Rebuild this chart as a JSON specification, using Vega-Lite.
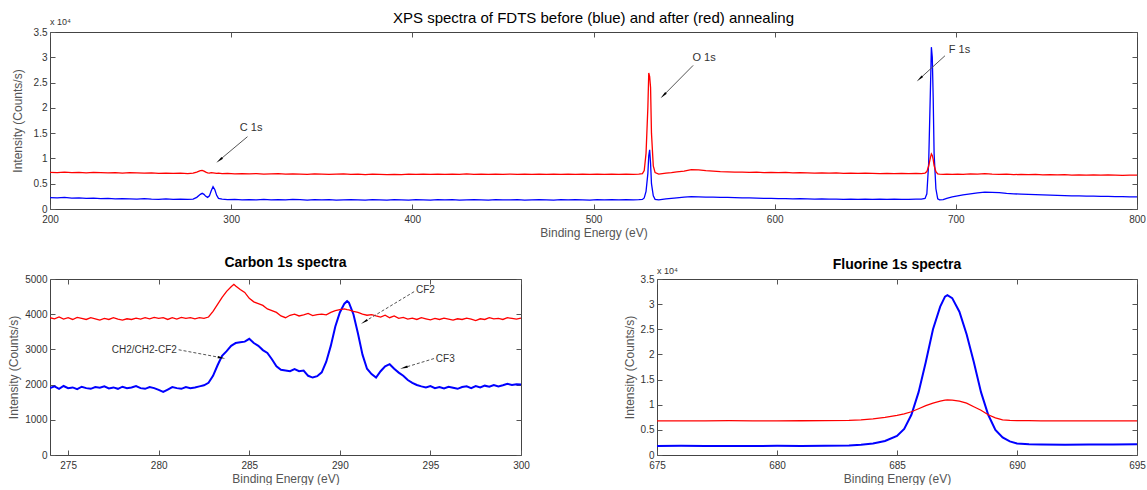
{
"$schema": "https://vega.github.io/schema/vega-lite/v6.json",
"padding": {"left": 7, "top": 10, "right": 0, "bottom": 0},
"config": {
 "font": "Liberation Sans",
 "view": {"stroke": "#444", "strokeWidth": 1},
 "axis": {"grid": false, "domain": false, "tickSize": -5, "tickColor": "#555", "labelFontSize": 10, "labelColor": "#333", "titleFontSize": 12, "titleColor": "#555", "titleFontWeight": "normal", "labelFont": "Liberation Sans", "titleFont": "Liberation Sans", "labelPadding": 8, "titlePadding": 4, "labelFlush": false},
 "axisX": {"labelPadding": 10},
 "title": {"font": "Liberation Sans", "color": "#000", "frame": "group"}
},
"datasets": {
 "survey": [
{"e":200,"b":2250,"r":7250},{"e":204,"b":2200,"r":7200},{"e":208,"b":2300,"r":7300},{"e":212,"b":2150,"r":7200},{"e":216,"b":2200,"r":7250},{"e":220,"b":2100,"r":7150},{"e":224,"b":2150,"r":7250},{"e":228,"b":2050,"r":7200},{"e":232,"b":2100,"r":7150},{"e":236,"b":2000,"r":7200},{"e":240,"b":2050,"r":7100},{"e":244,"b":2000,"r":7200},{"e":248,"b":1950,"r":7150},{"e":252,"b":2050,"r":7100},{"e":256,"b":1950,"r":7150},{"e":260,"b":1900,"r":7050},{"e":264,"b":2000,"r":7100},{"e":268,"b":1900,"r":7050},{"e":272,"b":1950,"r":7100},{"e":276,"b":1900,"r":7000},{"e":279,"b":1950,"r":7100},{"e":281,"b":2300,"r":7300},{"e":283,"b":2900,"r":7600},{"e":284,"b":3100,"r":7650},{"e":285,"b":2900,"r":7500},{"e":286,"b":2500,"r":7300},{"e":287,"b":2300,"r":7150},{"e":288,"b":2600,"r":7100},{"e":289,"b":3600,"r":7200},{"e":290,"b":4400,"r":7150},{"e":291,"b":3800,"r":7100},{"e":292,"b":2700,"r":7050},{"e":293,"b":2100,"r":7100},{"e":295,"b":1950,"r":7000},{"e":298,"b":1850,"r":7050},
{"e":302,"b":1900,"r":6950},{"e":306,"b":1800,"r":7000},{"e":310,"b":1850,"r":6950},{"e":314,"b":1800,"r":7000},{"e":318,"b":1900,"r":6900},{"e":322,"b":1800,"r":6950},{"e":326,"b":1850,"r":7000},{"e":330,"b":1800,"r":6900},{"e":334,"b":1900,"r":6950},{"e":338,"b":1850,"r":6900},{"e":342,"b":1750,"r":6850},{"e":346,"b":1850,"r":6950},{"e":350,"b":1800,"r":6900},{"e":354,"b":1850,"r":6850},{"e":358,"b":1750,"r":6900},{"e":362,"b":1800,"r":6950},{"e":366,"b":1850,"r":6850},{"e":370,"b":1800,"r":6900},{"e":374,"b":1750,"r":6800},{"e":378,"b":1850,"r":6900},{"e":382,"b":1800,"r":6850},{"e":386,"b":1750,"r":6800},{"e":390,"b":1850,"r":6850},{"e":394,"b":1800,"r":6800},{"e":398,"b":1750,"r":6900},
{"e":402,"b":1850,"r":6850},{"e":406,"b":1800,"r":6900},{"e":410,"b":1750,"r":6850},{"e":414,"b":1850,"r":6900},{"e":418,"b":1800,"r":6850},{"e":422,"b":1850,"r":6900},{"e":426,"b":1750,"r":6850},{"e":430,"b":1800,"r":6950},{"e":434,"b":1850,"r":6850},{"e":438,"b":1800,"r":6900},{"e":442,"b":1750,"r":6850},{"e":446,"b":1850,"r":6900},{"e":450,"b":1800,"r":6850},{"e":454,"b":1800,"r":6900},{"e":458,"b":1850,"r":6850},{"e":462,"b":1750,"r":6900},{"e":466,"b":1800,"r":6850},{"e":470,"b":1850,"r":6900},{"e":474,"b":1800,"r":6850},{"e":478,"b":1750,"r":6900},{"e":482,"b":1850,"r":6850},{"e":486,"b":1800,"r":6900},{"e":490,"b":1850,"r":6850},{"e":494,"b":1800,"r":6900},{"e":498,"b":1750,"r":6850},
{"e":502,"b":1850,"r":6900},{"e":506,"b":1800,"r":6850},{"e":510,"b":1850,"r":6900},{"e":514,"b":1800,"r":6850},{"e":518,"b":1850,"r":6900},{"e":522,"b":1800,"r":6850},{"e":525,"b":1850,"r":6900},{"e":527,"b":1900,"r":7000},{"e":528,"b":2200,"r":7600},{"e":529,"b":3500,"r":11000},{"e":530,"b":7000,"r":20000},{"e":530.5,"b":10500,"r":26900},{"e":531,"b":11700,"r":26200},{"e":531.5,"b":9000,"r":24000},{"e":532,"b":5000,"r":15000},{"e":533,"b":2600,"r":8500},{"e":534,"b":1900,"r":7200},{"e":536,"b":1800,"r":6900},{"e":538,"b":1900,"r":7000},{"e":540,"b":2000,"r":7100},{"e":543,"b":2100,"r":7200},{"e":546,"b":2200,"r":7350},{"e":550,"b":2350,"r":7500},{"e":554,"b":2450,"r":7800},{"e":558,"b":2400,"r":7750},{"e":562,"b":2350,"r":7600},{"e":566,"b":2350,"r":7500},{"e":570,"b":2300,"r":7400},{"e":574,"b":2300,"r":7350},{"e":578,"b":2250,"r":7300},{"e":582,"b":2200,"r":7300},{"e":586,"b":2200,"r":7250},{"e":590,"b":2150,"r":7300},{"e":594,"b":2100,"r":7200},{"e":598,"b":2100,"r":7250},
{"e":602,"b":2050,"r":7200},{"e":606,"b":2050,"r":7250},{"e":610,"b":2000,"r":7150},{"e":614,"b":2050,"r":7200},{"e":618,"b":2000,"r":7150},{"e":622,"b":1950,"r":7100},{"e":626,"b":2000,"r":7150},{"e":630,"b":1950,"r":7100},{"e":634,"b":1950,"r":7150},{"e":638,"b":1900,"r":7050},{"e":642,"b":1950,"r":7100},{"e":646,"b":1900,"r":7050},{"e":650,"b":1950,"r":7100},{"e":654,"b":1900,"r":7050},{"e":658,"b":1950,"r":7000},{"e":662,"b":1900,"r":7050},{"e":666,"b":1950,"r":7000},{"e":670,"b":1900,"r":7050},{"e":674,"b":1900,"r":7000},{"e":678,"b":1950,"r":7050},{"e":681,"b":1950,"r":7000},{"e":683,"b":2100,"r":7100},{"e":684,"b":3000,"r":7400},{"e":685,"b":9000,"r":8500},{"e":686,"b":24000,"r":10200},{"e":686.5,"b":32000,"r":10900},{"e":687,"b":30000,"r":10600},{"e":687.5,"b":22000,"r":9800},{"e":688,"b":11000,"r":8600},{"e":689,"b":4000,"r":7400},{"e":690,"b":2000,"r":6950},{"e":691,"b":1800,"r":6900},{"e":693,"b":1850,"r":6850},{"e":695,"b":2100,"r":6900},{"e":698,"b":2400,"r":6850},
{"e":701,"b":2600,"r":6900},{"e":704,"b":2800,"r":6850},{"e":708,"b":3000,"r":6950},{"e":712,"b":3200,"r":6900},{"e":716,"b":3350,"r":7000},{"e":720,"b":3300,"r":6900},{"e":724,"b":3250,"r":6850},{"e":728,"b":3100,"r":6900},{"e":732,"b":3000,"r":6800},{"e":736,"b":2950,"r":6850},{"e":740,"b":2900,"r":6800},{"e":744,"b":2850,"r":6850},{"e":748,"b":2800,"r":6750},{"e":752,"b":2750,"r":6800},{"e":756,"b":2700,"r":6750},{"e":760,"b":2650,"r":6800},{"e":764,"b":2600,"r":6700},{"e":768,"b":2600,"r":6750},{"e":772,"b":2550,"r":6700},{"e":776,"b":2550,"r":6750},{"e":780,"b":2500,"r":6700},{"e":784,"b":2500,"r":6750},{"e":788,"b":2450,"r":6700},{"e":792,"b":2450,"r":6650},{"e":796,"b":2400,"r":6700},{"e":800,"b":2400,"r":6700}
 ],
 "surveyArrows": [
  {"id":"C","x1":309,"y1":14300,"x2":294,"y2":9800},
  {"id":"O","x1":555,"y1":28400,"x2":539,"y2":22600},
  {"id":"F","x1":694,"y1":30300,"x2":680.5,"y2":25900}
 ],
 "surveyLabels": [
  {"x":311,"y":16000,"t":"C 1s"},
  {"x":561,"y":29800,"t":"O 1s"},
  {"x":702,"y":31400,"t":"F 1s"}
 ],
 "carbon": [
{"e":274.0,"b":1900,"r":3900},{"e":274.25,"b":1950,"r":3870},{"e":274.5,"b":1880,"r":3920},{"e":274.75,"b":1960,"r":3860},{"e":275.0,"b":1900,"r":3900},{"e":275.25,"b":1920,"r":3850},{"e":275.5,"b":1870,"r":3910},{"e":275.75,"b":1940,"r":3880},{"e":276.0,"b":1900,"r":3850},{"e":276.25,"b":1880,"r":3900},{"e":276.5,"b":1930,"r":3870},{"e":276.75,"b":1910,"r":3830},{"e":277.0,"b":1950,"r":3880},{"e":277.25,"b":1890,"r":3850},{"e":277.5,"b":1920,"r":3900},{"e":277.75,"b":1880,"r":3860},{"e":278.0,"b":1940,"r":3830},{"e":278.25,"b":1900,"r":3870},{"e":278.5,"b":1920,"r":3850},{"e":278.75,"b":1960,"r":3890},{"e":279.0,"b":1900,"r":3860},{"e":279.25,"b":1880,"r":3900},{"e":279.5,"b":1930,"r":3870},{"e":279.75,"b":1900,"r":3910},
{"e":280.0,"b":1850,"r":3880},{"e":280.25,"b":1790,"r":3900},{"e":280.5,"b":1860,"r":3850},{"e":280.75,"b":1930,"r":3900},{"e":281.0,"b":1900,"r":3860},{"e":281.25,"b":1880,"r":3910},{"e":281.5,"b":1930,"r":3880},{"e":281.75,"b":1900,"r":3900},{"e":282.0,"b":1920,"r":3870},{"e":282.25,"b":1950,"r":3900},{"e":282.5,"b":1980,"r":3880},{"e":282.75,"b":2050,"r":3920},{"e":283.0,"b":2250,"r":4080},{"e":283.25,"b":2550,"r":4280},{"e":283.5,"b":2820,"r":4480},{"e":283.75,"b":2950,"r":4650},{"e":284.0,"b":3100,"r":4780},{"e":284.15,"b":3150,"r":4850},{"e":284.25,"b":3180,"r":4800},{"e":284.5,"b":3200,"r":4700},{"e":284.75,"b":3220,"r":4620},
{"e":285.0,"b":3300,"r":4450},{"e":285.25,"b":3180,"r":4350},{"e":285.5,"b":3100,"r":4300},{"e":285.75,"b":2980,"r":4250},{"e":286.0,"b":2900,"r":4150},{"e":286.25,"b":2720,"r":4100},{"e":286.5,"b":2520,"r":4050},{"e":286.75,"b":2420,"r":3950},{"e":287.0,"b":2400,"r":3900},{"e":287.25,"b":2380,"r":3970},{"e":287.5,"b":2440,"r":4000},{"e":287.75,"b":2380,"r":3950},{"e":288.0,"b":2400,"r":3980},{"e":288.25,"b":2250,"r":4020},{"e":288.5,"b":2200,"r":3960},{"e":288.75,"b":2240,"r":3990},{"e":289.0,"b":2350,"r":4000},{"e":289.25,"b":2650,"r":3980},{"e":289.5,"b":3100,"r":4050},{"e":289.75,"b":3650,"r":4100},
{"e":290.0,"b":4050,"r":4130},{"e":290.25,"b":4300,"r":4150},{"e":290.4,"b":4370,"r":4130},{"e":290.5,"b":4330,"r":4120},{"e":290.75,"b":4000,"r":4080},{"e":291.0,"b":3450,"r":4050},{"e":291.25,"b":2850,"r":4000},{"e":291.5,"b":2450,"r":3970},{"e":291.75,"b":2300,"r":3990},{"e":292.0,"b":2200,"r":3950},{"e":292.25,"b":2380,"r":3920},{"e":292.5,"b":2520,"r":3970},{"e":292.75,"b":2580,"r":3900},{"e":293.0,"b":2450,"r":3950},{"e":293.25,"b":2340,"r":3880},{"e":293.5,"b":2250,"r":3910},{"e":293.75,"b":2130,"r":3860},{"e":294.0,"b":2050,"r":3890},{"e":294.25,"b":1990,"r":3850},{"e":294.5,"b":1950,"r":3900},{"e":294.75,"b":1920,"r":3870},
{"e":295.0,"b":1960,"r":3840},{"e":295.25,"b":1900,"r":3880},{"e":295.5,"b":1930,"r":3850},{"e":295.75,"b":1890,"r":3890},{"e":296.0,"b":1940,"r":3860},{"e":296.25,"b":1910,"r":3830},{"e":296.5,"b":1880,"r":3870},{"e":296.75,"b":1930,"r":3850},{"e":297.0,"b":1950,"r":3890},{"e":297.25,"b":1900,"r":3860},{"e":297.5,"b":1960,"r":3820},{"e":297.75,"b":1920,"r":3870},{"e":298.0,"b":1970,"r":3850},{"e":298.25,"b":1940,"r":3900},{"e":298.5,"b":1990,"r":3870},{"e":298.75,"b":1950,"r":3880},{"e":299.0,"b":1980,"r":3850},{"e":299.25,"b":2020,"r":3900},{"e":299.5,"b":1990,"r":3880},{"e":299.75,"b":2010,"r":3860},{"e":300.0,"b":2000,"r":3890}
 ],
 "carbonArrows": [
  {"id":"CF2","x1":294.1,"y1":4640,"x2":291.4,"y2":3800},
  {"id":"CH2","x1":281.1,"y1":2990,"x2":283.4,"y2":2770},
  {"id":"CF3","x1":295.2,"y1":2740,"x2":293.6,"y2":2490}
 ],
 "carbonLabelsLeft": [
  {"x":294.2,"y":4690,"t":"CF2"},
  {"x":295.3,"y":2740,"t":"CF3"}
 ],
 "carbonLabelsRight": [
  {"x":281.0,"y":2980,"t":"CH2/CH2-CF2"}
 ],
 "fluorine": [
{"e":675,"b":1800,"r":6800},{"e":676,"b":1820,"r":6780},{"e":677,"b":1800,"r":6800},{"e":678,"b":1810,"r":6820},{"e":679,"b":1800,"r":6790},{"e":680,"b":1820,"r":6800},{"e":681,"b":1810,"r":6810},{"e":682,"b":1830,"r":6830},{"e":683,"b":1900,"r":6900},{"e":683.5,"b":2050,"r":7000},{"e":684,"b":2300,"r":7200},{"e":684.5,"b":2800,"r":7500},{"e":685,"b":3800,"r":7900},{"e":685.3,"b":5200,"r":8200},{"e":685.6,"b":8000,"r":8600},{"e":685.9,"b":12500,"r":9200},{"e":686.2,"b":18500,"r":9800},{"e":686.5,"b":25000,"r":10300},{"e":686.8,"b":29500,"r":10700},{"e":687.0,"b":31500,"r":10900},{"e":687.1,"b":31800,"r":10950},{"e":687.3,"b":31200,"r":10900},{"e":687.6,"b":28500,"r":10700},{"e":687.9,"b":24000,"r":10300},{"e":688.2,"b":18500,"r":9600},{"e":688.5,"b":12500,"r":8900},{"e":688.8,"b":8000,"r":8000},{"e":689.1,"b":5000,"r":7400},{"e":689.4,"b":3500,"r":7000},{"e":689.7,"b":2700,"r":6900},{"e":690.0,"b":2300,"r":6850},{"e":690.5,"b":2150,"r":6820},{"e":691,"b":2100,"r":6800},{"e":692,"b":2050,"r":6800},{"e":693,"b":2100,"r":6790},{"e":694,"b":2100,"r":6800},{"e":695,"b":2150,"r":6800}
 ],
 "expTop": [{"x":200,"y":35000,"t":"x 10⁴"}],
 "expF": [{"x":675,"y":35000,"t":"x 10⁴"}]
},
"bounds": "flush",
"spacing": 70,
"vconcat": [
 {
  "width": 1087, "height": 177,
  "title": {"text": "XPS spectra of FDTS before (blue) and after (red) annealing", "fontSize": 15, "fontWeight": "normal", "offset": -8},
  "resolve": {"axis": {"x": "independent", "y": "independent"}},
  "layer": [
   {"data": {"name": "survey"}, "transform": [{"fold": ["b", "r"], "as": ["s", "v"]}],
    "mark": {"type": "line", "strokeWidth": 1.3, "clip": true},
    "encoding": {
     "x": {"field": "e", "type": "quantitative", "scale": {"domain": [200, 800], "nice": false, "zero": false}, "axis": {"values": [200, 300, 400, 500, 600, 700, 800], "title": "Binding Energy (eV)", "titlePadding": 3}},
     "y": {"field": "v", "type": "quantitative", "scale": {"domain": [0, 35000], "nice": false}, "axis": {"values": [0, 5000, 10000, 15000, 20000, 25000, 30000, 35000], "labelExpr": "datum.value/10000", "title": "Intensity (Counts/s)", "titlePadding": 9}},
     "color": {"field": "s", "type": "nominal", "scale": {"domain": ["b", "r"], "range": ["#0000ff", "#ff0000"]}, "legend": null}
    }},
   {"data": {"name": "surveyArrows"}, "mark": {"type": "rule", "color": "#555", "strokeWidth": 1},
    "encoding": {
     "x": {"field": "x1", "type": "quantitative", "axis": {"orient": "top", "labels": false, "title": null, "values": [200, 300, 400, 500, 600, 700, 800]}},
     "y": {"field": "y1", "type": "quantitative", "axis": {"orient": "right", "labels": false, "title": null, "values": [0, 5000, 10000, 15000, 20000, 25000, 30000, 35000]}},
     "x2": {"field": "x2"}, "y2": {"field": "y2"}
    }},
   {"data": {"name": "surveyArrows"}, "transform": [{"filter": "datum.id == 'C'"}], "mark": {"type": "point", "shape": "wedge", "filled": true, "color": "#000", "size": 80, "angle": 230, "opacity": 1},
    "encoding": {"x": {"field": "x2", "type": "quantitative", "axis": null}, "y": {"field": "y2", "type": "quantitative", "axis": null}}},
   {"data": {"name": "surveyArrows"}, "transform": [{"filter": "datum.id == 'O'"}], "mark": {"type": "point", "shape": "wedge", "filled": true, "color": "#000", "size": 80, "angle": 225, "opacity": 1},
    "encoding": {"x": {"field": "x2", "type": "quantitative", "axis": null}, "y": {"field": "y2", "type": "quantitative", "axis": null}}},
   {"data": {"name": "surveyArrows"}, "transform": [{"filter": "datum.id == 'F'"}], "mark": {"type": "point", "shape": "wedge", "filled": true, "color": "#000", "size": 80, "angle": 227, "opacity": 1},
    "encoding": {"x": {"field": "x2", "type": "quantitative", "axis": null}, "y": {"field": "y2", "type": "quantitative", "axis": null}}},
   {"data": {"name": "surveyLabels"}, "mark": {"type": "text", "fontSize": 11, "color": "#333", "align": "center", "baseline": "middle"},
    "encoding": {"x": {"field": "x", "type": "quantitative", "axis": null}, "y": {"field": "y", "type": "quantitative", "axis": null}, "text": {"field": "t"}}},
   {"data": {"name": "expTop"}, "mark": {"type": "text", "fontSize": 9, "color": "#333", "align": "left", "baseline": "bottom", "dy": -5},
    "encoding": {"x": {"field": "x", "type": "quantitative", "axis": null}, "y": {"field": "y", "type": "quantitative", "axis": null}, "text": {"field": "t"}}}
  ]
 },
 {
  "bounds": "flush",
  "spacing": 136,
  "hconcat": [
   {
    "width": 471, "height": 176,
    "title": {"text": "Carbon 1s spectra", "fontSize": 14, "fontWeight": "bold", "offset": 4},
    "resolve": {"axis": {"x": "independent", "y": "independent"}},
    "layer": [
     {"data": {"name": "carbon"}, "transform": [{"fold": ["b", "r"], "as": ["s", "v"]}],
      "mark": {"type": "line", "clip": true},
      "encoding": {
       "x": {"field": "e", "type": "quantitative", "scale": {"domain": [274, 300], "nice": false, "zero": false}, "axis": {"values": [275, 280, 285, 290, 295, 300], "title": "Binding Energy (eV)", "titlePadding": 3}},
       "y": {"field": "v", "type": "quantitative", "scale": {"domain": [0, 5000], "nice": false}, "axis": {"values": [0, 1000, 2000, 3000, 4000, 5000], "format": "d", "title": "Intensity (Counts/s)"}},
       "color": {"field": "s", "type": "nominal", "scale": {"domain": ["b", "r"], "range": ["#0000ff", "#ff0000"]}, "legend": null},
       "strokeWidth": {"field": "s", "type": "nominal", "scale": {"domain": ["b", "r"], "range": [2, 1.3]}, "legend": null}
      }},
     {"data": {"name": "carbonArrows"}, "mark": {"type": "rule", "color": "#555", "strokeWidth": 1, "strokeDash": [3, 2]},
      "encoding": {
       "x": {"field": "x1", "type": "quantitative", "axis": {"orient": "top", "labels": false, "title": null, "values": [275, 280, 285, 290, 295, 300]}},
       "y": {"field": "y1", "type": "quantitative", "axis": {"orient": "right", "labels": false, "title": null, "values": [0, 1000, 2000, 3000, 4000, 5000]}},
       "x2": {"field": "x2"}, "y2": {"field": "y2"}
      }},
     {"data": {"name": "carbonArrows"}, "transform": [{"filter": "datum.id == 'CF2'"}], "mark": {"type": "point", "shape": "wedge", "filled": true, "color": "#000", "size": 80, "angle": 239, "opacity": 1},
      "encoding": {"x": {"field": "x2", "type": "quantitative", "axis": null}, "y": {"field": "y2", "type": "quantitative", "axis": null}}},
     {"data": {"name": "carbonArrows"}, "transform": [{"filter": "datum.id == 'CH2'"}], "mark": {"type": "point", "shape": "wedge", "filled": true, "color": "#000", "size": 80, "angle": 100, "opacity": 1},
      "encoding": {"x": {"field": "x2", "type": "quantitative", "axis": null}, "y": {"field": "y2", "type": "quantitative", "axis": null}}},
     {"data": {"name": "carbonArrows"}, "transform": [{"filter": "datum.id == 'CF3'"}], "mark": {"type": "point", "shape": "wedge", "filled": true, "color": "#000", "size": 80, "angle": 253, "opacity": 1},
      "encoding": {"x": {"field": "x2", "type": "quantitative", "axis": null}, "y": {"field": "y2", "type": "quantitative", "axis": null}}},
     {"data": {"name": "carbonLabelsLeft"}, "mark": {"type": "text", "fontSize": 10, "color": "#333", "align": "left", "baseline": "middle"},
      "encoding": {"x": {"field": "x", "type": "quantitative", "axis": null}, "y": {"field": "y", "type": "quantitative", "axis": null}, "text": {"field": "t"}}},
     {"data": {"name": "carbonLabelsRight"}, "mark": {"type": "text", "fontSize": 10, "color": "#333", "align": "right", "baseline": "middle"},
      "encoding": {"x": {"field": "x", "type": "quantitative", "axis": null}, "y": {"field": "y", "type": "quantitative", "axis": null}, "text": {"field": "t"}}}
    ]
   },
   {
    "width": 480, "height": 176,
    "title": {"text": "Fluorine 1s spectra", "fontSize": 14, "fontWeight": "bold", "offset": -5},
    "resolve": {"axis": {"x": "independent", "y": "independent"}},
    "layer": [
     {"data": {"name": "fluorine"}, "transform": [{"fold": ["b", "r"], "as": ["s", "v"]}],
      "mark": {"type": "line", "clip": true},
      "encoding": {
       "x": {"field": "e", "type": "quantitative", "scale": {"domain": [675, 695], "nice": false, "zero": false}, "axis": {"values": [675, 680, 685, 690, 695], "title": "Binding Energy (eV)", "titlePadding": 3}},
       "y": {"field": "v", "type": "quantitative", "scale": {"domain": [0, 35000], "nice": false}, "axis": {"values": [0, 5000, 10000, 15000, 20000, 25000, 30000, 35000], "labelExpr": "datum.value/10000", "title": "Intensity (Counts/s)"}},
       "color": {"field": "s", "type": "nominal", "scale": {"domain": ["b", "r"], "range": ["#0000ff", "#ff0000"]}, "legend": null},
       "strokeWidth": {"field": "s", "type": "nominal", "scale": {"domain": ["b", "r"], "range": [2, 1.3]}, "legend": null}
      }},
     {"data": {"name": "expF"}, "mark": {"type": "text", "fontSize": 9, "color": "#333", "align": "left", "baseline": "bottom", "dy": -3},
      "encoding": {
       "x": {"field": "x", "type": "quantitative", "axis": {"orient": "top", "labels": false, "title": null, "values": [675, 680, 685, 690, 695]}},
       "y": {"field": "y", "type": "quantitative", "axis": {"orient": "right", "labels": false, "title": null, "values": [0, 5000, 10000, 15000, 20000, 25000, 30000, 35000]}},
       "text": {"field": "t"}
      }}
    ]
   }
  ]
 }
]
}
